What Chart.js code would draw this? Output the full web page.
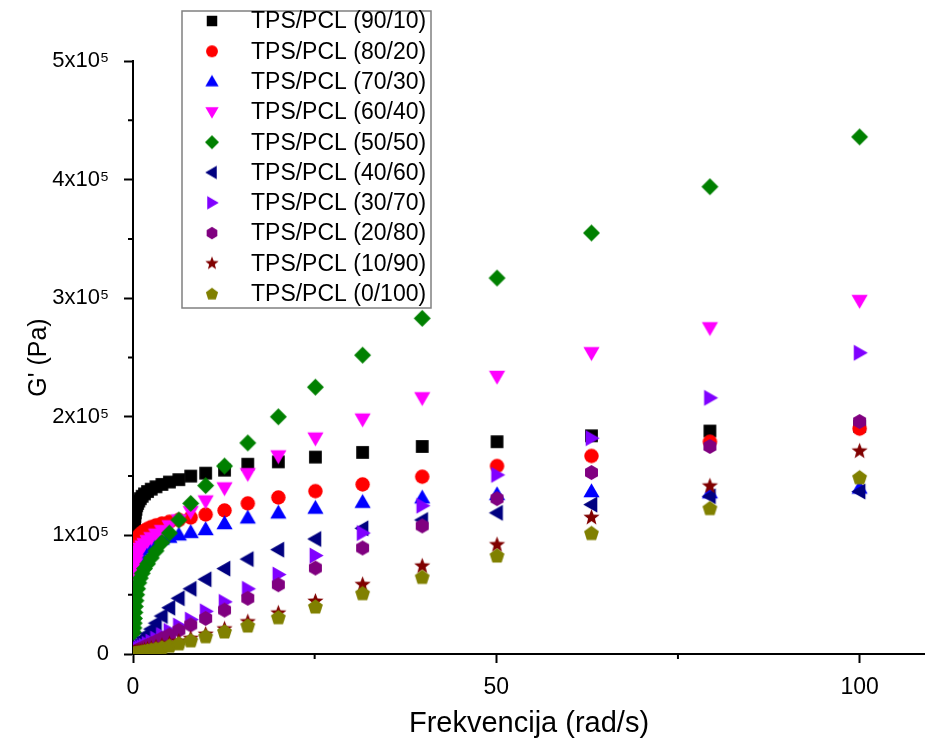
<!DOCTYPE html>
<html>
<head>
<meta charset="utf-8">
<title>G' - TPS/PCL</title>
<script src="https://cdn.jsdelivr.net/npm/chart.js@4.4.1/dist/chart.umd.min.js"></script>
<style>
  html, body { margin: 0; padding: 0; background: #fff; }
  #wrap { width: 925px; height: 747px; }
</style>
</head>
<body>
<div id="wrap"><canvas id="chart" width="925" height="747"></canvas></div>
<script>
// frequency sweep, rad/s (10 points per decade)
const freq = [0.1, 0.126, 0.158, 0.2, 0.251, 0.316, 0.398, 0.501, 0.631, 0.794,
  1, 1.26, 1.58, 2, 2.51, 3.16, 3.98, 5.01, 6.31, 7.94,
  10, 12.6, 15.8, 20, 25.1, 31.6, 39.8, 50.1, 63.1, 79.4, 100];

// storage modulus G' (Pa) for each blend
const g90_10 = [103000, 107000, 110000, 113000, 116000, 119000, 122000, 125000, 127000, 129000,
  131000, 133000, 135000, 137000, 139000, 141000, 143000, 145000, 147000, 150000,
  152500, 155000, 160000, 162000, 166000, 170000, 175000, 179000, 184000, 188000, 192000];
const g80_20 = [80000, 83000, 86000, 88000, 90000, 92000, 94000, 96000, 98000, 99500,
  101000, 102500, 104000, 105500, 107000, 108500, 110000, 111500, 113000, 115000,
  117600, 121000, 127000, 132000, 137300, 143000, 149500, 158500, 167000, 179000, 190000];
const g70_30 = [62000, 65000, 68000, 71000, 74000, 77000, 79500, 82000, 84000, 86000,
  88000, 89500, 91000, 92500, 94000, 95500, 97000, 98500, 100500, 102600,
  105000, 110000, 114800, 119000, 123000, 128000, 131700, 134500, 137000, 136000, 140000];
const g60_40 = [58000, 62000, 66000, 70000, 73000, 76000, 79000, 82000, 85000, 87000,
  89000, 91000, 93000, 95500, 98000, 101000, 104000, 108000, 113000, 120000,
  129000, 140000, 152000, 167000, 182000, 198000, 216000, 234000, 254000, 275000, 298000];
const g50_50 = [18000, 22000, 26000, 30000, 35000, 40000, 45000, 50000, 55000, 60000,
  64000, 68000, 72000, 76000, 81000, 87000, 94000, 102000, 113000, 127000,
  142000, 158500, 178000, 200000, 225000, 252000, 283000, 317000, 355000, 394000, 436000];
const g40_60 = [3800, 4100, 4400, 4800, 5200, 5700, 6300, 7000, 8000, 9000,
  10000, 12000, 14000, 17000, 21000, 26000, 32000, 39000, 47000, 55000,
  63000, 72000, 80000, 88000, 97000, 106000, 113000, 119000, 126000, 133000, 137000];
const g30_70 = [1600, 1800, 2000, 2200, 2400, 2700, 3000, 3400, 3800, 4300,
  5000, 6000, 7000, 8500, 10500, 13000, 16000, 19500, 24000, 29000,
  36000, 44000, 55000, 67000, 83000, 102000, 125000, 151000, 182000, 216000, 254000];
const g20_80 = [900, 1050, 1200, 1400, 1600, 1800, 2100, 2500, 2900, 3400,
  4000, 4800, 5800, 7000, 8500, 10500, 13000, 16000, 20000, 24500,
  30000, 37000, 47000, 58400, 72500, 89400, 108000, 131000, 153000, 175000, 196000];
const g10_90 = [320, 380, 450, 550, 650, 800, 950, 1150, 1400, 1700,
  2100, 2600, 3200, 3900, 4700, 5700, 7000, 8500, 10500, 13000,
  16500, 21000, 27000, 34400, 44300, 58400, 74000, 92000, 115000, 141500, 171000];
const g0_100 = [150, 190, 240, 300, 380, 480, 600, 750, 950, 1200,
  1500, 1850, 2300, 2900, 3600, 4500, 5600, 7000, 9000, 11500,
  15000, 19000, 24000, 31000, 40000, 51300, 65000, 83000, 102000, 123000, 149000];

const blendLabels = ['TPS/PCL (90/10)', 'TPS/PCL (80/20)', 'TPS/PCL (70/30)', 'TPS/PCL (60/40)',
  'TPS/PCL (50/50)', 'TPS/PCL (40/60)', 'TPS/PCL (30/70)', 'TPS/PCL (20/80)',
  'TPS/PCL (10/90)', 'TPS/PCL (0/100)'];
const blendValues = [g90_10, g80_20, g70_30, g60_40, g50_50, g40_60, g30_70, g20_80, g10_90, g0_100];
const blendColors = ['#000000', '#ff0000', '#0000ff', '#ff00ff', '#008000',
  '#000080', '#8000ff', '#800080', '#800000', '#808000'];
const blendShapes = ['square', 'circle', 'up', 'down', 'diamond',
  'left', 'right', 'hexagon', 'star', 'pentagon'];

// axis ticks
const xMajor = [0, 50, 100];
const xMinor = [25, 75];
const yMajor = [0, 100000, 200000, 300000, 400000, 500000];
const yMinor = [50000, 150000, 250000, 350000, 450000];
const yTickLabels = ['0', '1x10\u2075', '2x10\u2075', '3x10\u2075', '4x10\u2075', '5x10\u2075'];

const FONT = '"Liberation Sans", Arial, sans-serif';

function polygon(ctx, cx, cy, r, n, start) {
  for (let k = 0; k < n; k++) {
    const a = start + k * 2 * Math.PI / n;
    const px = cx + r * Math.cos(a), py = cy + r * Math.sin(a);
    if (k === 0) ctx.moveTo(px, py); else ctx.lineTo(px, py);
  }
  ctx.closePath();
}

function tracePath(ctx, shape, cx, cy, r) {
  const t = r * 1.1; // triangles look small at the same radius
  ctx.beginPath();
  switch (shape) {
    case 'square': ctx.rect(cx - r * 0.75, cy - r * 0.75, r * 1.5, r * 1.5); break;
    case 'circle': ctx.arc(cx, cy, r * 0.85, 0, Math.PI * 2); break;
    case 'diamond': polygon(ctx, cx, cy, r, 4, -Math.PI / 2); break;
    case 'up': polygon(ctx, cx, cy + t * 0.12, t, 3, -Math.PI / 2); break;
    case 'down': polygon(ctx, cx, cy - t * 0.12, t, 3, Math.PI / 2); break;
    case 'left': polygon(ctx, cx + t * 0.12, cy, t, 3, Math.PI); break;
    case 'right': polygon(ctx, cx - t * 0.12, cy, t, 3, 0); break;
    case 'hexagon': polygon(ctx, cx, cy, r * 0.88, 6, -Math.PI / 2); break;
    case 'pentagon': polygon(ctx, cx, cy + r * 0.08, r * 0.92, 5, -Math.PI / 2); break;
    case 'star':
      for (let k = 0; k < 10; k++) {
        const a = -Math.PI / 2 + k * Math.PI / 5;
        const rr = k % 2 ? r * 0.42 : r;
        const px = cx + rr * Math.cos(a), py = cy + rr * Math.sin(a);
        if (k === 0) ctx.moveTo(px, py); else ctx.lineTo(px, py);
      }
      ctx.closePath();
      break;
  }
}

// small canvases used as point styles
function makeMarker(shape, color, r) {
  const size = Math.ceil(r * 2.2) + 2;
  const c = document.createElement('canvas');
  c.width = size; c.height = size;
  const g = c.getContext('2d');
  tracePath(g, shape, size / 2, size / 2, r);
  g.fillStyle = color;
  g.fill();
  return c;
}

const plotMarks = blendShapes.map((s, i) => makeMarker(s, blendColors[i], 8.5));
const legendMarks = blendShapes.map((s, i) => makeMarker(s, blendColors[i], 7));

// framed legend in the upper left of the plot
const boxLegend = {
  id: 'boxLegend',
  afterDraw(chart) {
    const ctx = chart.ctx;
    ctx.save();
    ctx.strokeStyle = '#808080';
    ctx.lineWidth = 1.5;
    ctx.strokeRect(182, 11, 249, 297);
    ctx.font = '23px ' + FONT;
    ctx.textBaseline = 'middle';
    ctx.fillStyle = '#000';
    blendLabels.forEach((label, i) => {
      const y = 21 + i * 30.3;
      const m = legendMarks[i];
      ctx.drawImage(m, 212 - m.width / 2, y - m.height / 2);
      ctx.fillText(label, 251, y + 1);
    });
    ctx.restore();
  }
};

// short unlabelled ticks between the major ones
const minorTicks = {
  id: 'minorTicks',
  afterDraw(chart) {
    const { ctx, chartArea, scales } = chart;
    ctx.save();
    ctx.strokeStyle = '#000';
    ctx.lineWidth = 2;
    ctx.beginPath();
    xMinor.forEach(v => {
      const px = scales.x.getPixelForValue(v);
      ctx.moveTo(px, chartArea.bottom);
      ctx.lineTo(px, chartArea.bottom + 5);
    });
    yMinor.forEach(v => {
      const py = scales.y.getPixelForValue(v);
      ctx.moveTo(chartArea.left - 5, py);
      ctx.lineTo(chartArea.left, py);
    });
    ctx.stroke();
    ctx.restore();
  }
};

const datasets = blendLabels.map((label, i) => ({
  label,
  data: freq.map((f, k) => ({ x: f, y: blendValues[i][k] })),
  pointStyle: plotMarks[i],
  pointRadius: 8,
  backgroundColor: blendColors[i],
  borderColor: blendColors[i],
  showLine: false,
  order: blendLabels.length - i
}));

new Chart(document.getElementById('chart'), {
  type: 'scatter',
  data: { datasets },
  options: {
    responsive: false,
    animation: false,
    layout: { autoPadding: false, padding: { top: 61, right: 0, left: 0, bottom: 0 } },
    plugins: {
      legend: { display: false },
      tooltip: { enabled: false }
    },
    scales: {
      x: {
        type: 'linear',
        min: 0,
        max: 109,
        afterBuildTicks: s => { s.ticks = xMajor.map(v => ({ value: v })); },
        afterFit: s => { s.height = 93; },
        ticks: {
          color: '#000',
          font: { family: FONT, size: 23 },
          padding: 11,
          maxRotation: 0,
          autoSkip: false,
          callback: v => String(v)
        },
        grid: { drawOnChartArea: false, tickLength: 9, tickWidth: 2, tickColor: '#000' },
        border: { color: '#000', width: 2 },
        title: {
          display: true,
          text: 'Frekvencija (rad/s)',
          color: '#000',
          font: { family: FONT, size: 29 },
          padding: { top: 0, bottom: 6 }
        }
      },
      y: {
        type: 'linear',
        min: 0,
        max: 500000,
        afterBuildTicks: s => { s.ticks = yMajor.map(v => ({ value: v })); },
        afterFit: s => { s.width = 133; },
        ticks: {
          color: '#000',
          font: { family: FONT, size: 22 },
          padding: 15,
          autoSkip: false,
          callback: v => yTickLabels[yMajor.indexOf(v)]
        },
        grid: { drawOnChartArea: false, tickLength: 9, tickWidth: 2, tickColor: '#000' },
        border: { color: '#000', width: 2 },
        title: {
          display: true,
          text: "G' (Pa)",
          color: '#000',
          font: { family: FONT, size: 25 },
          padding: { top: 24, bottom: 0 }
        }
      }
    }
  },
  plugins: [minorTicks, boxLegend]
});
</script>
</body>
</html>
